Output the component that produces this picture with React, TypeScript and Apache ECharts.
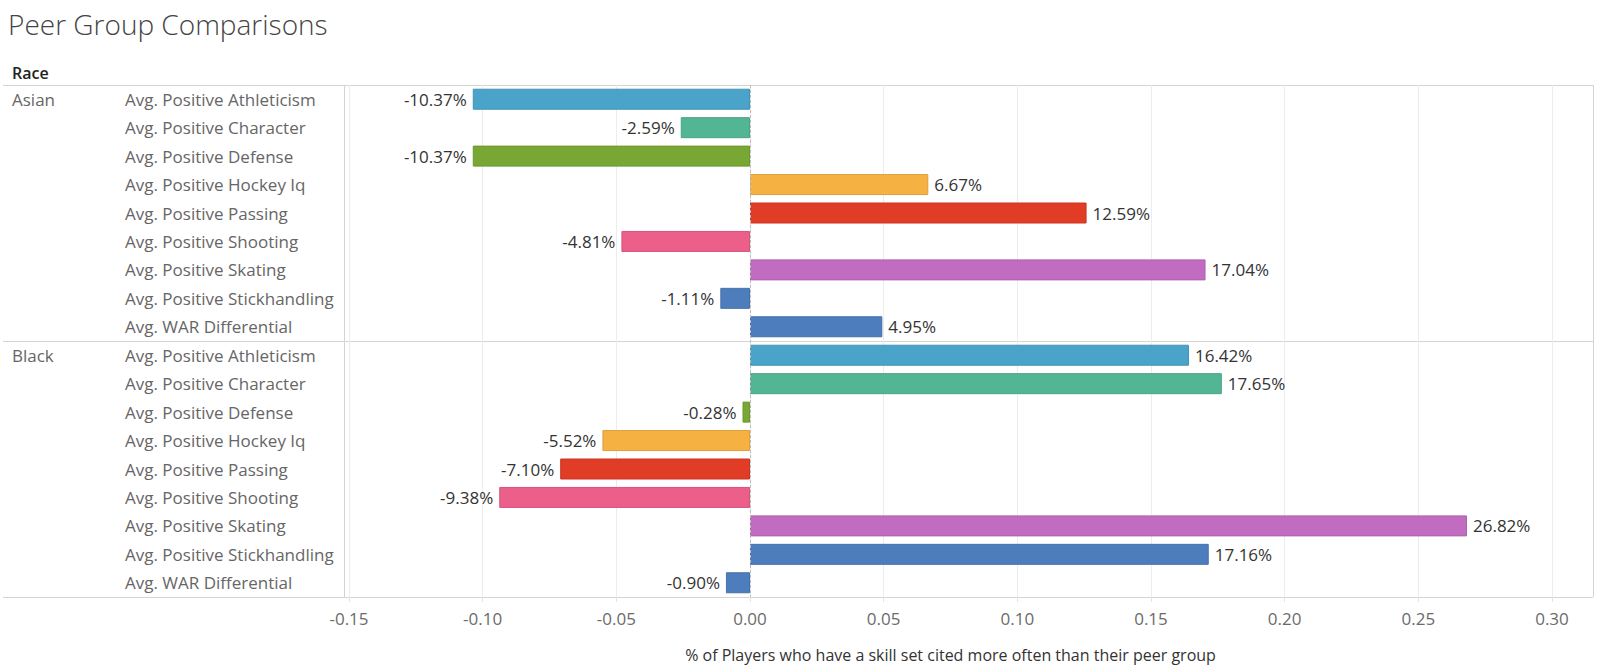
import React, { useEffect, useRef } from "react";
import * as echarts from "echarts";

const title = "Peer Group Comparisons";
const races = ["Asian", "Black"];
const measures = [
  "Avg. Positive Athleticism",
  "Avg. Positive Character",
  "Avg. Positive Defense",
  "Avg. Positive Hockey Iq",
  "Avg. Positive Passing",
  "Avg. Positive Shooting",
  "Avg. Positive Skating",
  "Avg. Positive Stickhandling",
  "Avg. WAR Differential",
];
const measureColors = [
  "#4AA3C9",
  "#52B593",
  "#78A833",
  "#F5B242",
  "#E03C26",
  "#EC5F8A",
  "#C16CC0",
  "#4E7DBD",
  "#4E7DBD",
];
const asianValues = [-0.1037, -0.0259, -0.1037, 0.0667, 0.1259, -0.0481, 0.1704, -0.0111, 0.0495];
const blackValues = [0.1642, 0.1765, -0.0028, -0.0552, -0.071, -0.0938, 0.2682, 0.1716, -0.009];
const xTicks = { min: -0.15, max: 0.3, interval: 0.05 };
const xAxisTitle = "% of Players who have a skill set cited more often than their peer group";

const FONT = "'Open Sans', Lato, sans-serif";

function darken(hex: string, f: number) {
  const n = parseInt(hex.slice(1), 16);
  const r = Math.round(((n >> 16) & 255) * f);
  const g = Math.round(((n >> 8) & 255) * f);
  const b = Math.round((n & 255) * f);
  return `rgb(${r},${g},${b})`;
}

export default function App() {
  const ref = useRef<HTMLDivElement>(null);
  useEffect(() => {
    if (!ref.current) return;
    const chart = echarts.init(ref.current, null, { renderer: "svg" });
    const allValues = [asianValues, blackValues];
    const cats: string[] = [];
    const data: any[] = [];
    races.forEach((race, ri) => {
      measures.forEach((m, mi) => {
        cats.push(race + "|" + m);
        const v = allValues[ri][mi];
        data.push({
          value: v,
          itemStyle: { color: measureColors[mi], borderColor: darken(measureColors[mi], 0.9), borderWidth: 1 },
          label: { position: v >= 0 ? "right" : "left" },
        });
      });
    });

    const L = 344, R = 1593, T = 85, B = 597;
    const mid = (T + B) / 2;
    const lineColor = "#d4d4d4";

    chart.setOption({
      animation: false,
      title: {
        text: title,
        left: 3,
        top: 5,
        textStyle: { fontFamily: FONT, fontSize: 28, fontWeight: 300, color: "#444" },
      },
      grid: { left: 349, right: 1600 - 1552, top: T, bottom: 670 - B },
      xAxis: {
        type: "value",
        min: xTicks.min,
        max: xTicks.max,
        interval: xTicks.interval,
        axisLine: { show: false },
        axisTick: { show: true, length: 5, lineStyle: { color: "#e4e4e4" } },
        splitLine: { show: true, lineStyle: { color: "#ececec", width: 1 } },
        axisLabel: {
          margin: 13,
          fontFamily: FONT,
          fontSize: 17,
          color: "#6b6b6b",
          formatter: (v: number) => v.toFixed(2),
        },
        name: xAxisTitle,
        nameLocation: "middle",
        nameGap: 50,
        nameTextStyle: { fontFamily: FONT, fontSize: 16, color: "#333" },
      },
      yAxis: [
        {
          type: "category",
          data: cats,
          inverse: true,
          axisLine: { show: false },
          axisTick: { show: false },
          axisLabel: {
            align: "left",
            margin: 224,
            fontFamily: FONT,
            fontSize: 17,
            color: "#666",
            formatter: (v: string) => v.split("|")[1],
          },
        },
        {
          type: "category",
          data: cats,
          inverse: true,
          position: "left",
          axisLine: { show: false },
          axisTick: { show: false },
          axisLabel: {
            align: "left",
            margin: 337,
            fontFamily: FONT,
            fontSize: 17,
            color: "#666",
            interval: 0,
            formatter: (v: string, i: number) => (i % measures.length === 0 ? v.split("|")[0] : ""),
          },
        },
      ],
      series: [
        {
          type: "bar",
          data,
          barWidth: 21,
          label: {
            show: true,
            distance: 6,
            fontFamily: FONT,
            fontSize: 17,
            color: "#333",
            formatter: (p: any) => (p.value * 100).toFixed(2) + "%",
          },
          markLine: {
            silent: true,
            symbol: "none",
            label: { show: false },
            lineStyle: { color: "#bdbdbd", type: [3, 2], width: 1 },
            data: [{ xAxis: 0 }],
          },
        },
      ],
      graphic: [
        {
          type: "text",
          left: 12,
          top: 65,
          style: { text: "Race", fontFamily: FONT, fontSize: 16, fontWeight: 600, fill: "#222" },
        },
        { type: "line", shape: { x1: 3, y1: T + 0.5, x2: R, y2: T + 0.5 }, style: { stroke: lineColor, lineWidth: 1 } },
        { type: "line", shape: { x1: 3, y1: mid + 0.5, x2: R, y2: mid + 0.5 }, style: { stroke: lineColor, lineWidth: 1 } },
        { type: "line", shape: { x1: 3, y1: B + 0.5, x2: R, y2: B + 0.5 }, style: { stroke: lineColor, lineWidth: 1 } },
        { type: "line", shape: { x1: L + 0.5, y1: T, x2: L + 0.5, y2: B }, style: { stroke: lineColor, lineWidth: 1 } },
        { type: "line", shape: { x1: R + 0.5, y1: T, x2: R + 0.5, y2: B }, style: { stroke: lineColor, lineWidth: 1 } },
      ],
    });
    return () => chart.dispose();
  }, []);
  return (
    <div
      ref={ref}
      style={{ position: "fixed", left: 0, top: 0, width: 1600, height: 670, background: "#fff" }}
    />
  );
}
